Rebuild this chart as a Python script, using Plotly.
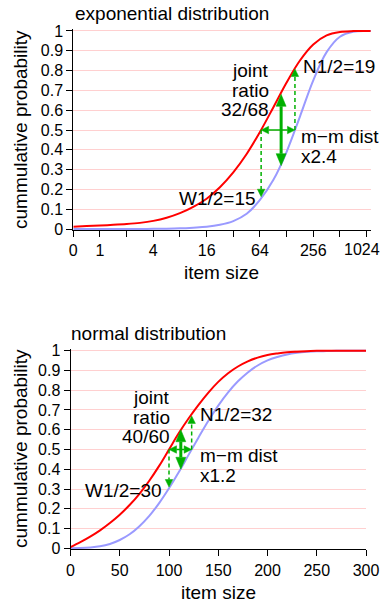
import math
import plotly.graph_objects as go

# ---------------- data ----------------
# exponential distribution (item size on log2 scale; "0" label sits at size 0.5)
exp_sizes = [0.5, 0.707, 1, 1.414, 2, 2.83, 4, 5.66, 8, 11.3, 16, 22.6, 32, 45.3,
             64, 90.5, 128, 181, 256, 362, 512, 724, 1024, 1448]
exp_count_cdf = [0.012, 0.015, 0.018, 0.021, 0.025, 0.031, 0.041, 0.057, 0.080, 0.112,
                 0.153, 0.211, 0.286, 0.379, 0.490, 0.614, 0.740, 0.851, 0.932, 0.978,
                 0.995, 0.9995, 1.0, 1.0]
exp_weight_cdf = [0.0, 0.0, 0.0001, 0.0001, 0.0002, 0.0004, 0.0009, 0.0017, 0.0034, 0.0066,
                  0.011, 0.021, 0.040, 0.077, 0.147, 0.247, 0.390, 0.568, 0.751, 0.893,
                  0.971, 0.996, 1.0, 1.0]
exp_tick_vals = [0.5, 1, 2, 4, 8, 16, 32, 64, 128, 256, 512, 1024]
exp_tick_text = ["0", "1", "", "4", "", "16", "", "64", "", "256", "", ""]
exp_last_tick_label = "1024"   # drawn separately so it stays inside the picture

# normal distribution
norm_sizes = [0, 10, 20, 30, 40, 50, 60, 70, 80, 90, 100, 110, 120, 130, 140, 150,
              160, 170, 180, 190, 200, 210, 220, 230, 240, 250, 260, 270, 280, 290, 300]
norm_count_cdf = [0.006, 0.031, 0.059, 0.091, 0.128, 0.170, 0.219, 0.276, 0.342, 0.417,
                  0.500, 0.583, 0.658, 0.726, 0.788, 0.842, 0.886, 0.920, 0.946, 0.965,
                  0.978, 0.986, 0.992, 0.995, 0.997, 0.999, 1.0, 1.0, 1.0, 1.0, 1.0]
norm_weight_cdf = [0.0, 0.001, 0.004, 0.010, 0.022, 0.042, 0.071, 0.112, 0.164, 0.229,
                   0.304, 0.386, 0.474, 0.561, 0.645, 0.722, 0.789, 0.845, 0.890, 0.925,
                   0.951, 0.968, 0.981, 0.989, 0.994, 0.997, 0.998, 0.999, 1.0, 1.0, 1.0]
norm_tick_vals = [0, 50, 100, 150, 200, 250, 300]

prob_tick_vals = [0, 0.1, 0.2, 0.3, 0.4, 0.5, 0.6, 0.7, 0.8, 0.9, 1.0]
prob_tick_text = ["0", "0.1", "0.2", "0.3", "0.4", "0.5", "0.6", "0.7", "0.8", "0.9", "1"]

# marker values
exp_median_count, exp_median_weight, exp_joint_x = 66, 159, 111
exp_w_half, exp_n_half, exp_joint_lo, exp_joint_hi = 0.163, 0.808, 0.32, 0.68
norm_median_count, norm_median_weight, norm_joint_x = 100, 123, 112
norm_w_half, norm_n_half, norm_joint_lo, norm_joint_hi = 0.31, 0.67, 0.40, 0.60

# ---------------- layout geometry (pixels) ----------------
W, H = 382, 604
RED, BLUE, GREEN, GRID = "#ff0000", "#9a9aff", "#00b000", "#ffd0d0"
FONT = "Liberation Sans, Arial, Helvetica, sans-serif"


def fx(x):
    return x / W


def fy(y):
    return 1 - y / H


# top plot area
T_L, T_R, T_T, T_B = 73.3, 370.6, 29.0, 230.0
T_XR = [math.log10(0.5), 10.15 * math.log10(2)]
T_YR = [-0.005, 1.01]
T_PPO = (T_R - T_L) / ((T_XR[1] - T_XR[0]) / math.log10(2))  # px per octave
T_PPY = (T_B - T_T) / (T_YR[1] - T_YR[0])
# bottom plot area
B_L, B_R, B_T, B_B = 70.5, 366.0, 348.7, 549.3
B_XR = [0, 300]
B_YR = [-0.005, 1.01]
B_PPX = (B_R - B_L) / (B_XR[1] - B_XR[0])
B_PPY = (B_B - B_T) / (B_YR[1] - B_YR[0])

fig = go.Figure()


def add_line(xs, ys, color, width, xa, ya, dash=None, shape="linear"):
    fig.add_trace(go.Scatter(x=xs, y=ys, mode="lines", xaxis=xa, yaxis=ya,
                             line=dict(color=color, width=width, dash=dash, shape=shape),
                             hoverinfo="skip", showlegend=False))


# curves
add_line(exp_sizes, exp_weight_cdf, BLUE, 2, "x", "y", shape="spline")
add_line(exp_sizes, exp_count_cdf, RED, 2, "x", "y", shape="spline")
add_line(norm_sizes, norm_weight_cdf, BLUE, 2, "x2", "y2", shape="spline")
add_line(norm_sizes, norm_count_cdf, RED, 2, "x2", "y2", shape="spline")


# arrow helpers: converting pixel offsets to data offsets on each axis
def top_dx(x, d):
    return x * 2 ** (d / T_PPO)


def top_dy(y, d):
    return y + d / T_PPY


def bot_dx(x, d):
    return x + d / B_PPX


def bot_dy(y, d):
    return y + d / B_PPY


def head(tip_x, tip_y, direction, L, Wd, dx, dy, xa, ya):
    if direction == "down":
        xs = [tip_x, dx(tip_x, -Wd / 2), dx(tip_x, Wd / 2), tip_x]
        ys = [tip_y, dy(tip_y, L), dy(tip_y, L), tip_y]
        base = (tip_x, dy(tip_y, L))
    elif direction == "up":
        xs = [tip_x, dx(tip_x, -Wd / 2), dx(tip_x, Wd / 2), tip_x]
        ys = [tip_y, dy(tip_y, -L), dy(tip_y, -L), tip_y]
        base = (tip_x, dy(tip_y, -L))
    elif direction == "left":
        xs = [tip_x, dx(tip_x, L), dx(tip_x, L), tip_x]
        ys = [tip_y, dy(tip_y, Wd / 2), dy(tip_y, -Wd / 2), tip_y]
        base = (dx(tip_x, L), tip_y)
    else:
        xs = [tip_x, dx(tip_x, -L), dx(tip_x, -L), tip_x]
        ys = [tip_y, dy(tip_y, Wd / 2), dy(tip_y, -Wd / 2), tip_y]
        base = (dx(tip_x, -L), tip_y)
    fig.add_trace(go.Scatter(x=xs, y=ys, mode="lines", fill="toself", fillcolor=GREEN,
                             line=dict(color=GREEN, width=0.5), xaxis=xa, yaxis=ya,
                             hoverinfo="skip", showlegend=False))
    return base


def markers(mc, mw, jx, w_half, n_half, j_lo, j_hi, dx, dy, xa, ya):
    # dashed: count median down to weight curve
    b = head(mc, w_half, "down", 7.5, 7.5, dx, dy, xa, ya)
    add_line([mc, mc], [0.5, b[1]], GREEN, 1.5, xa, ya, dash="4px,3px")
    # dashed: weight median up to count curve
    b = head(mw, n_half, "up", 7.5, 7.5, dx, dy, xa, ya)
    add_line([mw, mw], [0.5, b[1]], GREEN, 1.5, xa, ya, dash="4px,3px")
    # horizontal double arrow (median-median distance)
    b1 = head(mc, 0.5, "left", 7.5, 7.5, dx, dy, xa, ya)
    b2 = head(mw, 0.5, "right", 7.5, 7.5, dx, dy, xa, ya)
    add_line([b1[0], b2[0]], [0.5, 0.5], GREEN, 1.5, xa, ya)
    # thick vertical double arrow (joint ratio)
    b1 = head(jx, j_hi, "up", 12, 10, dx, dy, xa, ya)
    b2 = head(jx, j_lo, "down", 12, 10, dx, dy, xa, ya)
    add_line([jx, jx], [b2[1], b1[1]], GREEN, 3, xa, ya)


markers(exp_median_count, exp_median_weight, exp_joint_x, exp_w_half, exp_n_half,
        exp_joint_lo, exp_joint_hi, top_dx, top_dy, "x", "y")
markers(norm_median_count, norm_median_weight, norm_joint_x, norm_w_half, norm_n_half,
        norm_joint_lo, norm_joint_hi, bot_dx, bot_dy, "x2", "y2")

axis_common = dict(showline=True, linecolor="black", linewidth=1, ticks="outside",
                   ticklen=6, tickwidth=1, tickcolor="black", zeroline=False,
                   automargin=False,
                   tickfont=dict(family=FONT, size=16, color="black"), mirror=False)

fig.update_layout(
    width=W, height=H, autosize=False,
    margin=dict(l=0, r=0, t=0, b=0, pad=0),
    paper_bgcolor="white", plot_bgcolor="white",
    xaxis=dict(domain=[fx(T_L), fx(T_R)], type="log", range=T_XR, tickmode="array",
               tickvals=exp_tick_vals, ticktext=exp_tick_text, showgrid=False,
               ticklabeloverflow="allow", anchor="y", **axis_common),
    yaxis=dict(domain=[fy(T_B), fy(T_T)], range=T_YR, tickmode="array",
               tickvals=prob_tick_vals, ticktext=prob_tick_text, showgrid=True,
               gridcolor=GRID, gridwidth=1, anchor="x", **axis_common),
    xaxis2=dict(domain=[fx(B_L), fx(B_R)], range=B_XR, tickmode="array",
                tickvals=norm_tick_vals, showgrid=False, ticklabeloverflow="allow",
                anchor="y2", **axis_common),
    yaxis2=dict(domain=[fy(B_B), fy(B_T)], range=B_YR, tickmode="array",
                tickvals=prob_tick_vals, ticktext=prob_tick_text, showgrid=True,
                gridcolor=GRID, gridwidth=1, anchor="x2", **axis_common),
)


def text(s, x, y, anchor="left", size=19, angle=0):
    fig.add_annotation(text=s, x=fx(x), y=fy(y), xref="paper", yref="paper",
                       xanchor=anchor, yanchor="middle", showarrow=False,
                       textangle=angle, font=dict(family=FONT, size=size, color="black"),
                       borderpad=0)


# top panel texts
text("exponential distribution", 74, 13)
text("cummulative probability", 20, 130, anchor="center", angle=-90)
text("item size", (T_L + T_R) / 2, 272, anchor="center")
text(exp_last_tick_label, 381, 249.5, anchor="right", size=16)
text("joint", 269.5, 70.7, anchor="right")
text("ratio", 269.5, 90.7, anchor="right")
text("32/68", 269.5, 110, anchor="right")
text("N1/2=19", 302, 66)
text("m\u2212m dist", 300, 136.5)
text("x2.4", 300, 156.5)
text("W1/2=15", 257, 199, anchor="right")

# bottom panel texts
text("normal distribution", 70, 333)
text("cummulative probability", 20, (B_T + B_B) / 2, anchor="center", angle=-90)
text("item size", (B_L + B_R) / 2, 592.7, anchor="center")
text("joint", 170.7, 397.3, anchor="right")
text("ratio", 170.7, 417.3, anchor="right")
text("40/60", 170.7, 436.7, anchor="right")
text("N1/2=32", 199, 414.3)
text("m\u2212m dist", 199, 455.2)
text("x1.2", 199, 475.2)
text("W1/2=30", 163.3, 490, anchor="right")

fig.write_html("out.html", config={"displayModeBar": False},
               post_script="document.body.style.margin='0';"
                           "document.body.style.overflow='hidden';")
